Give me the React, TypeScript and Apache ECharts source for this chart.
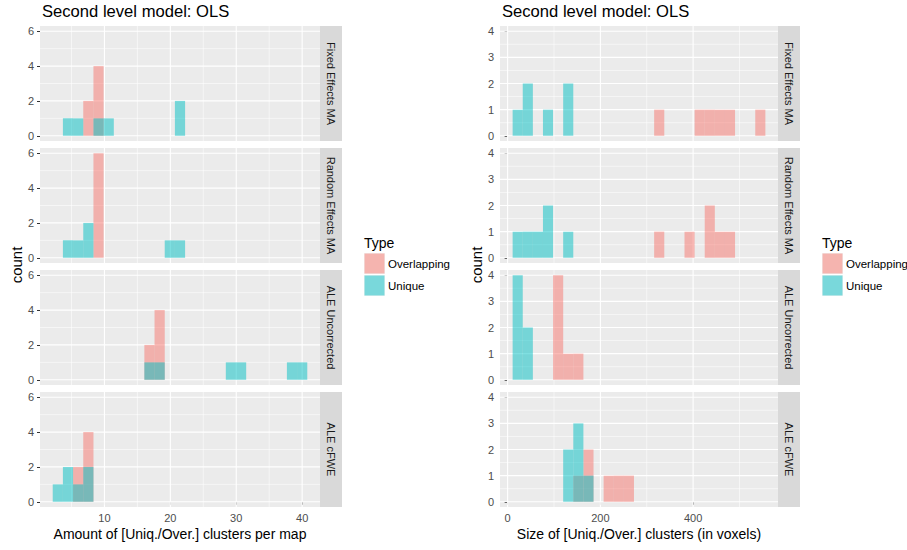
import React, { useEffect, useRef } from "react";
import * as echarts from "echarts";

const facets = ["Fixed Effects MA", "Random Effects MA", "ALE Uncorrected", "ALE cFWE"];
const typeNames = ["Overlapping", "Unique"];

// Left chart: amount of clusters per map (histogram bins)
const amountBinStart = 2.155;
const amountBinWidth = 1.545;
const amountOverlapping = [
  [0, 0, 0, 2, 4, 0, 0, 0, 0, 0, 0, 0, 0, 0, 0, 0, 0, 0, 0, 0, 0, 0, 0, 0, 0],
  [0, 0, 0, 0, 6, 0, 0, 0, 0, 0, 0, 0, 0, 0, 0, 0, 0, 0, 0, 0, 0, 0, 0, 0, 0],
  [0, 0, 0, 0, 0, 0, 0, 0, 0, 2, 4, 0, 0, 0, 0, 0, 0, 0, 0, 0, 0, 0, 0, 0, 0],
  [0, 0, 2, 4, 0, 0, 0, 0, 0, 0, 0, 0, 0, 0, 0, 0, 0, 0, 0, 0, 0, 0, 0, 0, 0],
];
const amountUnique = [
  [0, 1, 1, 0, 1, 1, 0, 0, 0, 0, 0, 0, 2, 0, 0, 0, 0, 0, 0, 0, 0, 0, 0, 0, 0],
  [0, 1, 1, 2, 0, 0, 0, 0, 0, 0, 0, 1, 1, 0, 0, 0, 0, 0, 0, 0, 0, 0, 0, 0, 0],
  [0, 0, 0, 0, 0, 0, 0, 0, 0, 1, 1, 0, 0, 0, 0, 0, 0, 1, 1, 0, 0, 0, 0, 1, 1],
  [1, 2, 1, 2, 0, 0, 0, 0, 0, 0, 0, 0, 0, 0, 0, 0, 0, 0, 0, 0, 0, 0, 0, 0, 0],
];

// Right chart: size of clusters in voxels (histogram bins)
const sizeBinStart = 10.8;
const sizeBinWidth = 21.8;
const sizeOverlapping = [
  [0, 0, 0, 0, 0, 0, 0, 0, 0, 0, 0, 0, 0, 0, 1, 0, 0, 0, 1, 1, 1, 1, 0, 0, 1],
  [0, 0, 0, 0, 0, 0, 0, 0, 0, 0, 0, 0, 0, 0, 1, 0, 0, 1, 0, 2, 1, 1, 0, 0, 0],
  [0, 0, 0, 0, 4, 1, 1, 0, 0, 0, 0, 0, 0, 0, 0, 0, 0, 0, 0, 0, 0, 0, 0, 0, 0],
  [0, 0, 0, 0, 0, 0, 1, 2, 0, 1, 1, 1, 0, 0, 0, 0, 0, 0, 0, 0, 0, 0, 0, 0, 0],
];
const sizeUnique = [
  [1, 2, 0, 1, 0, 2, 0, 0, 0, 0, 0, 0, 0, 0, 0, 0, 0, 0, 0, 0, 0, 0, 0, 0, 0],
  [1, 1, 1, 2, 0, 1, 0, 0, 0, 0, 0, 0, 0, 0, 0, 0, 0, 0, 0, 0, 0, 0, 0, 0, 0],
  [4, 2, 0, 0, 0, 0, 0, 0, 0, 0, 0, 0, 0, 0, 0, 0, 0, 0, 0, 0, 0, 0, 0, 0, 0],
  [0, 0, 0, 0, 0, 2, 3, 1, 0, 0, 0, 0, 0, 0, 0, 0, 0, 0, 0, 0, 0, 0, 0, 0, 0],
];

// Tick labels / breaks
const amountXTicks = [10, 20, 30, 40];
const amountXMinor = [5, 15, 25, 35];
const amountYTicks = [0, 2, 4, 6];
const amountYMinor = [1, 3, 5];
const sizeXTicks = [0, 200, 400];
const sizeXMinor = [100, 300, 500];
const sizeYTicks = [0, 1, 2, 3, 4];
const sizeYMinor = [0.5, 1.5, 2.5, 3.5];

const titleText = "Second level model: OLS";
const amountXName = "Amount of [Uniq./Over.] clusters per map";
const sizeXName = "Size of [Uniq./Over.] clusters (in voxels)";
const yName = "count";
const legendTitle = "Type";

const FONT = "'Liberation Sans', Arial, Helvetica, sans-serif";
const COL_OVER = "rgba(248,118,109,0.5)";
const COL_UNIQ = "rgba(0,191,196,0.5)";

function binsToData(counts: number[], start: number, width: number) {
  const out: number[][] = [];
  counts.forEach((c, i) => {
    if (c > 0) out.push([start + i * width, start + (i + 1) * width, c]);
  });
  return out;
}

function expand(lo: number, hi: number) {
  const d = (hi - lo) * 0.05;
  return [lo - d, hi + d];
}

export default function App() {
  const ref = useRef<HTMLDivElement>(null);
  useEffect(() => {
    if (!ref.current) return;
    const chart = echarts.init(ref.current, null, { renderer: "svg" });

    const panelTops = [26, 148, 270, 392];
    const panelH = 115;
    const charts = [
      {
        left: 40, width: 280, binStart: amountBinStart, binWidth: amountBinWidth,
        over: amountOverlapping, uniq: amountUnique,
        xTicks: amountXTicks, xMinor: amountXMinor, yTicks: amountYTicks, yMinor: amountYMinor,
        xName: amountXName,
      },
      {
        left: 500, width: 278, binStart: sizeBinStart, binWidth: sizeBinWidth,
        over: sizeOverlapping, uniq: sizeUnique,
        xTicks: sizeXTicks, xMinor: sizeXMinor, yTicks: sizeYTicks, yMinor: sizeYMinor,
        xName: sizeXName,
      },
    ];

    const grid: any[] = [];
    const xAxis: any[] = [];
    const yAxis: any[] = [];
    const series: any[] = [];
    const graphic: any[] = [];

    charts.forEach((c, ci) => {
      const nBins = c.over[0].length;
      const xExt = expand(c.binStart, c.binStart + nBins * c.binWidth);
      let maxCount = 0;
      [...c.over, ...c.uniq].forEach((arr) => arr.forEach((v) => (maxCount = Math.max(maxCount, v))));
      const yExt = expand(0, maxCount);

      graphic.push({
        type: "text", left: c.left + 2, top: 3,
        style: { text: titleText, fontSize: 16.6, fontFamily: FONT, fill: "#000" },
      });
      graphic.push({
        type: "text", x: c.left - 24, y: 265, rotation: Math.PI / 2,
        style: { text: yName, fontSize: 15, fontFamily: FONT, fill: "#000", align: "center", verticalAlign: "middle" },
      });

      panelTops.forEach((top, fi) => {
        const gi = grid.length;
        const bottomRow = fi === panelTops.length - 1;
        grid.push({
          left: c.left, top, width: c.width, height: panelH,
          show: true, backgroundColor: "#EBEBEB", borderWidth: 0, containLabel: false,
        });
        xAxis.push({
          type: "value", gridIndex: gi, min: xExt[0], max: xExt[1],
          axisLine: { show: false },
          splitLine: { show: false },
          axisTick: { show: bottomRow, length: 3, lineStyle: { color: "#333333" }, customValues: c.xTicks },
          axisLabel: {
            show: bottomRow, customValues: c.xTicks, color: "#4D4D4D", fontSize: 11, fontFamily: FONT, margin: 5,
          },
          name: bottomRow ? c.xName : "",
          nameLocation: "middle", nameGap: 20,
          nameTextStyle: { color: "#000", fontSize: 14, fontFamily: FONT },
        });
        yAxis.push({
          type: "value", gridIndex: gi, min: yExt[0], max: yExt[1],
          axisLine: { show: false },
          splitLine: { show: false },
          axisTick: { show: true, length: 3, lineStyle: { color: "#333333" }, customValues: c.yTicks },
          axisLabel: { customValues: c.yTicks, color: "#4D4D4D", fontSize: 11, fontFamily: FONT, margin: 6 },
        });

        // gridlines: [direction (0 vertical, 1 horizontal), value, major]
        const gridData: number[][] = [];
        c.xMinor.forEach((v) => gridData.push([0, v, 0]));
        c.yMinor.forEach((v) => gridData.push([1, v, 0]));
        c.xTicks.forEach((v) => gridData.push([0, v, 1]));
        c.yTicks.forEach((v) => gridData.push([1, v, 1]));
        series.push({
          type: "custom", xAxisIndex: gi, yAxisIndex: gi, z: 1, silent: true,
          data: gridData,
          encode: { x: 1, y: 1 },
          renderItem: (params: any, api: any) => {
            const cs = params.coordSys;
            const dir = api.value(0);
            const v = api.value(1);
            const major = api.value(2);
            const w = major ? 1.1 : 0.55;
            if (dir === 0) {
              if (v <= xExt[0] || v >= xExt[1]) return null;
              const x = api.coord([v, 0])[0];
              return {
                type: "line", shape: { x1: x, y1: cs.y, x2: x, y2: cs.y + cs.height },
                style: { stroke: "#FFFFFF", lineWidth: w },
              };
            }
            if (v <= yExt[0] || v >= yExt[1]) return null;
            const y = api.coord([xExt[0], v])[1];
            return {
              type: "line", shape: { x1: cs.x, y1: y, x2: cs.x + cs.width, y2: y },
              style: { stroke: "#FFFFFF", lineWidth: w },
            };
          },
        });

        const mkBars = (counts: number[], color: string, name: string, z: number) => ({
          type: "custom", name, xAxisIndex: gi, yAxisIndex: gi, z, silent: true,
          data: binsToData(counts, c.binStart, c.binWidth),
          encode: { x: [0, 1], y: 2 },
          renderItem: (params: any, api: any) => {
            const p0 = api.coord([api.value(0), 0]);
            const p1 = api.coord([api.value(1), api.value(2)]);
            return {
              type: "rect",
              shape: { x: p0[0], y: p1[1], width: p1[0] - p0[0], height: p0[1] - p1[1] },
              style: { fill: color },
            };
          },
        });
        series.push(mkBars(c.over[fi], COL_OVER, typeNames[0], 2));
        series.push(mkBars(c.uniq[fi], COL_UNIQ, typeNames[1], 3));

        // facet strip
        graphic.push({
          type: "rect", shape: { x: c.left + c.width, y: top, width: 22, height: panelH },
          style: { fill: "#D9D9D9" }, silent: true,
        });
        graphic.push({
          type: "text", x: c.left + c.width + 11, y: top + panelH / 2, rotation: -Math.PI / 2,
          style: {
            text: facets[fi], fontSize: 11, fontFamily: FONT, fill: "#1A1A1A",
            align: "center", verticalAlign: "middle",
          },
        });
      });

      // legend
      const lx = c.left + c.width + 44;
      graphic.push({
        type: "text", x: lx, y: 243,
        style: { text: legendTitle, fontSize: 14, fontFamily: FONT, fill: "#000", verticalAlign: "middle" },
      });
      const keyCols = ["#F5B4AF", "#79D8DB"];
      typeNames.forEach((t, ti) => {
        const ky = 253 + ti * 22;
        graphic.push({
          type: "rect", shape: { x: lx, y: ky, width: 21, height: 21 },
          style: { fill: "#F2F2F2" },
        });
        graphic.push({
          type: "rect", shape: { x: lx + 0.5, y: ky + 0.5, width: 20, height: 20 },
          style: { fill: keyCols[ti] },
        });
        graphic.push({
          type: "text", x: lx + 24, y: ky + 10.5,
          style: { text: t, fontSize: 11.5, fontFamily: FONT, fill: "#000", verticalAlign: "middle" },
        });
      });
    });

    chart.setOption({
      animation: false,
      backgroundColor: "#FFFFFF",
      textStyle: { fontFamily: FONT },
      grid, xAxis, yAxis, series, graphic,
    });
    return () => chart.dispose();
  }, []);

  return <div ref={ref} style={{ width: 907, height: 550, position: "absolute", left: 0, top: 0 }} />;
}
